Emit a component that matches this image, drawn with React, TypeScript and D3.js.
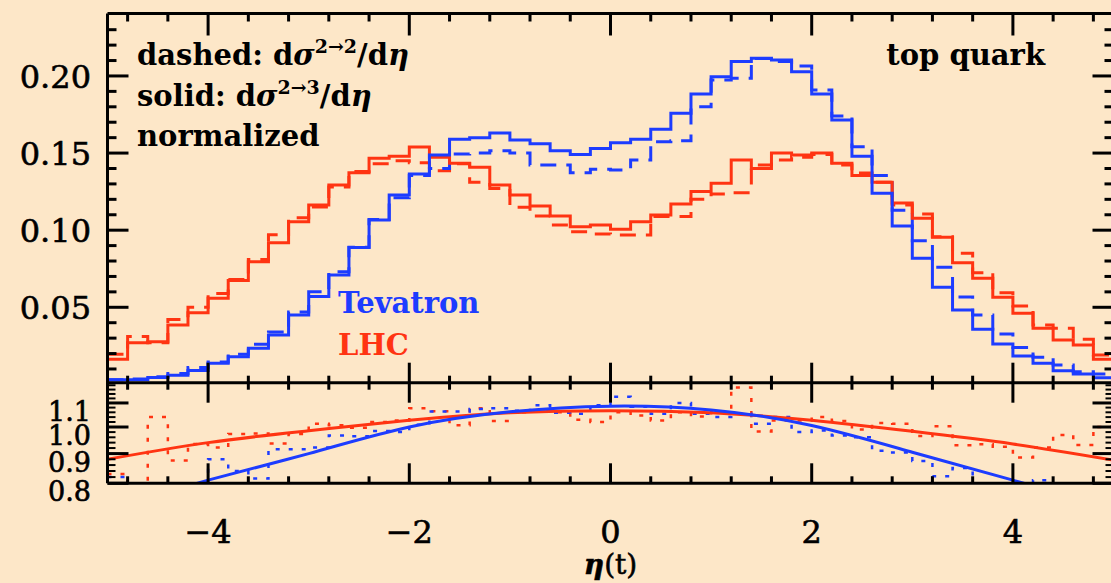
import React from 'react';
import * as d3 from 'd3';

// 50 bins of width 0.2 in eta, from -5 to 5
const binLo = d3.range(50).map(i => -5 + i * 0.2);

// normalized d sigma / d eta, Tevatron (blue) and LHC (red)
const tevSolid = [
  0.003, 0.003, 0.0045, 0.006, 0.009, 0.0137, 0.018, 0.0234, 0.032, 0.045,
  0.057, 0.071, 0.0887, 0.1066, 0.1228, 0.1364, 0.1488, 0.159, 0.160, 0.163,
  0.1585, 0.156, 0.1515, 0.149, 0.153, 0.1567, 0.159, 0.1654, 0.1758, 0.1883,
  0.1995, 0.2093, 0.2115, 0.2104, 0.2028, 0.1883, 0.1715, 0.148, 0.124, 0.1027,
  0.0818, 0.063, 0.0482, 0.0357, 0.0262, 0.0184, 0.0137, 0.0089, 0.0067, 0.0043,
];
const tevDashed = [
  0.003, 0.0035, 0.005, 0.007, 0.011, 0.0145, 0.0195, 0.026, 0.034, 0.047,
  0.060, 0.073, 0.089, 0.107, 0.121, 0.1355, 0.140, 0.1494, 0.150, 0.1515,
  0.150, 0.1423, 0.1423, 0.1373, 0.1395, 0.139, 0.1455, 0.1574, 0.158, 0.180,
  0.1974, 0.1985, 0.2113, 0.2093, 0.2065, 0.1909, 0.174, 0.1541, 0.1354, 0.113,
  0.0932, 0.076, 0.0567, 0.045, 0.0327, 0.024, 0.0176, 0.0126, 0.0082, 0.0067,
];
const lhcSolid = [
  0.0163, 0.027, 0.0277, 0.0385, 0.0465, 0.0558, 0.0673, 0.0796, 0.0919, 0.1055,
  0.1164, 0.1293, 0.1373, 0.1466, 0.148, 0.154, 0.1473, 0.1434, 0.1408, 0.1293,
  0.1228, 0.1157, 0.1092, 0.1023, 0.1034, 0.1006, 0.1055, 0.1099, 0.117, 0.125,
  0.1304, 0.1455, 0.140, 0.150, 0.1488, 0.150, 0.1434, 0.1354, 0.131, 0.1176,
  0.1077, 0.0954, 0.0789, 0.0688, 0.0565, 0.0461, 0.0364, 0.0288, 0.0256, 0.0163,
];
const lhcDashed = [
  0.0195, 0.031, 0.027, 0.042, 0.050, 0.059, 0.068, 0.081, 0.097, 0.108,
  0.115, 0.128, 0.138, 0.143, 0.145, 0.1438, 0.1386, 0.143, 0.131, 0.127,
  0.1149, 0.1092, 0.1034, 0.099, 0.0975, 0.0969, 0.0969, 0.1088, 0.1088, 0.120,
  0.1235, 0.1243, 0.1423, 0.1455, 0.1473, 0.149, 0.1423, 0.137, 0.131, 0.1164,
  0.1105, 0.0958, 0.085, 0.0724, 0.0595, 0.0508, 0.0385, 0.0364, 0.0292, 0.019,
];

// ratio 2->3 / 2->2 (dotted) in the lower panel
const tevRatio = [
  0.82, 0.79, 0.80, 0.79, 0.79, 0.88, 0.84, 0.815, 0.916, 0.916,
  0.922, 0.967, 0.964, 0.984, 0.98, 1.009, 1.063, 1.063, 1.074, 1.077,
  1.067, 1.09, 1.058, 1.054, 1.09, 1.127, 1.084, 1.054, 1.10, 1.054,
  1.04, 1.054, 1.013, 1.04, 0.98, 0.986, 0.967, 0.96, 0.91, 0.904,
  0.874, 0.823, 0.85, 0.79, 0.79, 0.79, 0.81, 0.79, 0.79, 0.79,
];
const lhcRatio = [
  0.83, 0.80, 1.04, 0.876, 0.935, 0.922, 0.973, 0.975, 0.937, 0.973,
  1.013, 1.007, 0.997, 1.02, 1.026, 1.077, 1.064, 1.007, 1.077, 1.024,
  1.06, 1.067, 1.06, 1.029, 1.02, 1.06, 1.047, 1.026, 1.06, 1.043,
  1.06, 1.17, 0.982, 1.026, 1.026, 1.04, 1.024, 0.99, 1.016, 1.013,
  0.965, 1.003, 0.93, 0.934, 0.925, 0.886, 0.922, 0.969, 0.931, 1.0,
];

// smooth fits of the ratio
const fitEta = [-5, -4, -3, -2, -1, 0, 1, 2, 3, 4, 5];
const lhcFit = [0.88, 0.94, 0.985, 1.027, 1.058, 1.067, 1.058, 1.027, 0.983, 0.935, 0.877];
const tevFitEta = [-4.5, -4, -3, -2, -1, 0, 1, 2, 3, 4, 4.5];
const tevFit = [0.76, 0.81, 0.90, 1.0, 1.062, 1.086, 1.07, 1.006, 0.905, 0.81, 0.765];

const xMajor = [-4, -2, 0, 2, 4];
const upperMajor = [0.05, 0.10, 0.15, 0.20];
const lowerMajor = [0.8, 0.9, 1.0, 1.1];

const BLUE = '#1d3cff';
const RED = '#ff3412';
const BG = '#fde7c8';
const FONT = 'DejaVu Serif';

export default function App() {
  const W = 1111, H = 583;
  const x = d3.scaleLinear().domain([-5, 5]).range([107.5, 1113.5]);
  const yU = d3.scaleLinear().domain([0.0011, 0.2405]).range([382.7, 13.5]);
  const yL = d3.scaleLog().domain([0.8, 1.192]).range([483.3, 382.7]);
  const [xl, xr] = x.range();
  const top = yU.range()[1], mid = yU.range()[0], bot = yL.range()[0];

  const step = (vals: number[], y: (v: number) => number) => {
    const pts: [number, number][] = vals.map((v, i) => [x(binLo[i]), y(v)]);
    pts.push([x(5), y(vals[vals.length - 1])]);
    return d3.line().curve(d3.curveStepAfter)(pts) || '';
  };
  const smooth = (eta: number[], vals: number[]) =>
    d3.line().curve(d3.curveNatural)(eta.map((e, i) => [x(e), yL(vals[i])] as [number, number])) || '';

  const xMinor = d3.range(-12, 13).map(i => i * 0.4).filter(v => v > -5 && v < 5 && !xMajor.some(m => Math.abs(m - v) < 1e-6));
  const uMinor = d3.range(1, 24).map(i => i / 100).filter(v => !upperMajor.some(m => Math.abs(m - v) < 1e-6));
  const lMinor = d3.range(41, 60).map(i => i / 50).filter(v => v < 1.19 && !lowerMajor.some(m => Math.abs(m - v) < 1e-6));

  const lw = 3;
  const ticks: JSX.Element[] = [];
  // x ticks on top, middle and bottom frame lines
  xMajor.forEach(v => {
    ticks.push(<line key={'tM' + v} x1={x(v)} x2={x(v)} y1={top} y2={top + 22} />);
    ticks.push(<line key={'mM' + v} x1={x(v)} x2={x(v)} y1={mid - 20} y2={mid + 20} />);
    ticks.push(<line key={'bM' + v} x1={x(v)} x2={x(v)} y1={bot} y2={bot - 20} />);
  });
  xMinor.forEach(v => {
    ticks.push(<line key={'tm' + v} x1={x(v)} x2={x(v)} y1={top} y2={top + 8} />);
    ticks.push(<line key={'mm' + v} x1={x(v)} x2={x(v)} y1={mid - 7} y2={mid + 7} />);
    ticks.push(<line key={'bm' + v} x1={x(v)} x2={x(v)} y1={bot} y2={bot - 7} />);
  });
  upperMajor.forEach(v => {
    ticks.push(<line key={'uL' + v} x1={xl} x2={xl + 21} y1={yU(v)} y2={yU(v)} />);
    ticks.push(<line key={'uR' + v} x1={xr} x2={xr - 21} y1={yU(v)} y2={yU(v)} />);
  });
  uMinor.forEach(v => {
    ticks.push(<line key={'ul' + v} x1={xl} x2={xl + 9} y1={yU(v)} y2={yU(v)} />);
    ticks.push(<line key={'ur' + v} x1={xr} x2={xr - 9} y1={yU(v)} y2={yU(v)} />);
  });
  lowerMajor.forEach(v => {
    ticks.push(<line key={'lL' + v} x1={xl} x2={xl + 21} y1={yL(v)} y2={yL(v)} />);
    ticks.push(<line key={'lR' + v} x1={xr} x2={xr - 21} y1={yL(v)} y2={yL(v)} />);
  });
  lMinor.forEach(v => {
    ticks.push(<line key={'ll' + v} x1={xl} x2={xl + 8} y1={yL(v)} y2={yL(v)} strokeWidth={2} />);
    ticks.push(<line key={'lr' + v} x1={xr} x2={xr - 8} y1={yL(v)} y2={yL(v)} strokeWidth={2} />);
  });

  const ann = { fontFamily: FONT, fontWeight: 'bold' as const, fontSize: 29 };

  return (
    <svg width={W} height={H} style={{ position: 'absolute', left: 0, top: 0, background: BG }}>
      <rect x={0} y={0} width={W} height={H} fill={BG} />
      <defs>
        <clipPath id="cu"><rect x={xl} y={top} width={xr - xl} height={mid - top} /></clipPath>
        <clipPath id="cl"><rect x={xl} y={mid} width={xr - xl} height={bot - mid} /></clipPath>
      </defs>

      <g clipPath="url(#cu)" fill="none" strokeWidth={3}>
        <path d={step(lhcDashed, yU)} stroke={RED} strokeDasharray="16 10" />
        <path d={step(tevDashed, yU)} stroke={BLUE} strokeDasharray="16 10" />
        <path d={step(lhcSolid, yU)} stroke={RED} />
        <path d={step(tevSolid, yU)} stroke={BLUE} />
      </g>

      <g clipPath="url(#cl)" fill="none">
        <path d={step(lhcRatio, yL)} stroke={RED} strokeWidth={2.5} strokeDasharray="4 9" />
        <path d={step(tevRatio, yL)} stroke={BLUE} strokeWidth={2.5} strokeDasharray="4 9" />
        <path d={smooth(fitEta, lhcFit)} stroke={RED} strokeWidth={3} />
        <path d={smooth(tevFitEta, tevFit)} stroke={BLUE} strokeWidth={3} />
      </g>

      <g stroke="#000" strokeWidth={lw} fill="none">
        <line x1={xl} x2={xr} y1={top} y2={top} />
        <line x1={xl} x2={xr} y1={mid} y2={mid} />
        <line x1={xl} x2={xr} y1={bot} y2={bot} />
        <line x1={xl} x2={xl} y1={top} y2={bot} />
        <line x1={xr} x2={xr} y1={top} y2={bot} />
        {ticks}
      </g>

      <g fontFamily={FONT} fontSize={32} fill="#000" stroke="#000" strokeWidth={0.6}>
        {upperMajor.map(v => (
          <text key={'ul' + v} x={91} y={yU(v) + 12} textAnchor="end">{d3.format('.2f')(v)}</text>
        ))}
        {lowerMajor.map(v => (
          <text key={'ll' + v} x={91} y={yL(v) + 18} fontSize={27} textAnchor="end">{d3.format('.1f')(v)}</text>
        ))}
        {xMajor.map(v => (
          <text key={'xl' + v} x={x(v)} y={543} textAnchor="middle">{v < 0 ? '\u2212' + Math.abs(v) : String(v)}</text>
        ))}
        <text x={x(0)} y={574} fontSize={28} textAnchor="middle">
          <tspan fontStyle="italic" fontWeight="bold">η</tspan>(t)
        </text>
      </g>

      <g {...ann} fill="#000">
        <text x={137} y={65}>
          dashed: d<tspan fontStyle="italic">σ</tspan>
          <tspan dy={-12} fontSize={19}>2→2</tspan>
          <tspan dy={12}>/d</tspan><tspan fontStyle="italic">η</tspan>
        </text>
        <text x={137} y={106}>
          solid: d<tspan fontStyle="italic">σ</tspan>
          <tspan dy={-12} fontSize={19}>2→3</tspan>
          <tspan dy={12}>/d</tspan><tspan fontStyle="italic">η</tspan>
        </text>
        <text x={137} y={146}>normalized</text>
        <text x={1045} y={65} textAnchor="end">top quark</text>
      </g>
      <text x={338} y={313} {...ann} fill={BLUE}>Tevatron</text>
      <text x={338} y={355} {...ann} fill={RED}>LHC</text>
    </svg>
  );
}
